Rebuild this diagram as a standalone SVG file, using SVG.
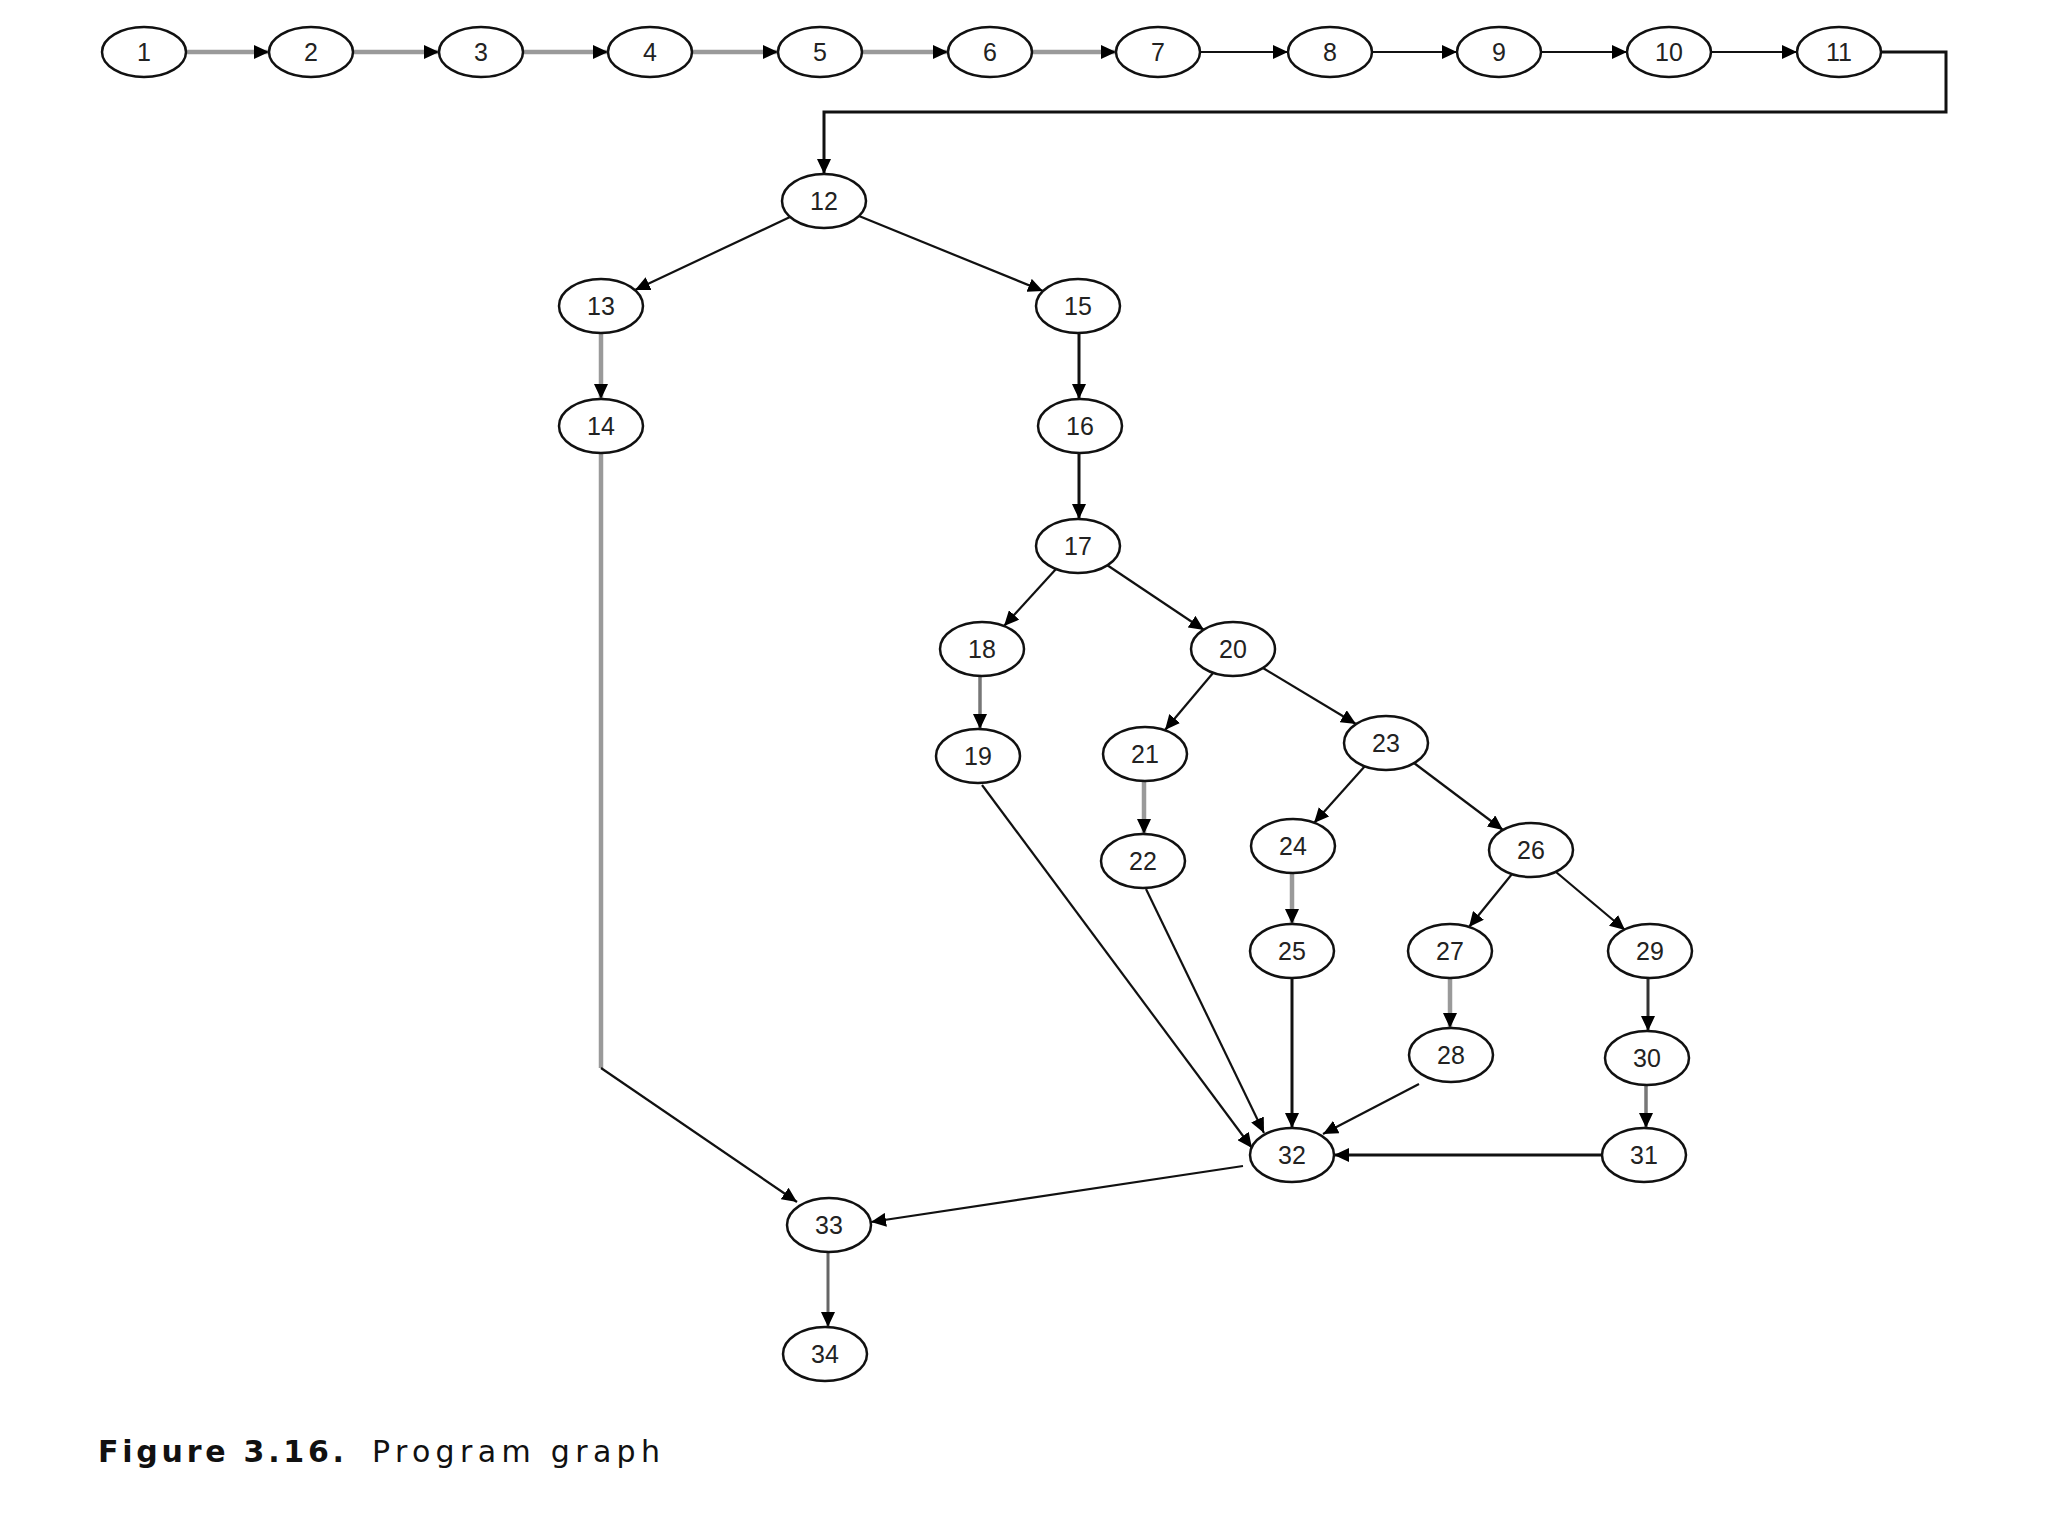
<svg xmlns="http://www.w3.org/2000/svg" width="2048" height="1536" viewBox="0 0 2048 1536">
<style>
.n ellipse{fill:#fff;stroke:#111;stroke-width:2.5}
.n text{font-family:"Liberation Sans",Arial,sans-serif;font-size:25px;fill:#222;text-anchor:middle;dominant-baseline:central}
.e{fill:none;stroke:#111;stroke-width:2.2}
.g{fill:none;stroke:#9a9a9a;stroke-width:4.5}
.a{marker-end:url(#ar)}
.cap{font-family:"DejaVu Sans",Verdana,sans-serif;font-size:30px;fill:#111}
</style>
<defs>
<marker id="ar" markerUnits="userSpaceOnUse" markerWidth="16" markerHeight="14" refX="15" refY="7" orient="auto">
<path d="M0,0 L15,7 L0,14 z" fill="#000"/>
</marker>
</defs>
<rect width="2048" height="1536" fill="#fff"/>
<g id="connectors">
<line class="g a" x1="186" y1="52" x2="269" y2="52"/>
<line class="g a" x1="353" y1="52" x2="439" y2="52"/>
<line class="g a" x1="523" y1="52" x2="608" y2="52"/>
<line class="g a" x1="692" y1="52" x2="778" y2="52"/>
<line class="g a" x1="862" y1="52" x2="948" y2="52"/>
<line class="g a" x1="1032" y1="52" x2="1116" y2="52"/>
<line class="e a" x1="1200" y1="52" x2="1288" y2="52"/>
<line class="e a" x1="1372" y1="52" x2="1457" y2="52"/>
<line class="e a" x1="1541" y1="52" x2="1627" y2="52"/>
<line class="e a" x1="1711" y1="52" x2="1797" y2="52"/>
<path class="e a" style="stroke-width:3" d="M1881,52 H1946 V112 H824 V174"/>
<line class="e a" x1="790" y1="217" x2="635" y2="290"/>
<line class="e a" x1="859" y1="216" x2="1043" y2="291"/>
<line class="g a" x1="601" y1="333" x2="601" y2="399"/>
<line class="e a" style="stroke-width:3" x1="1079" y1="333" x2="1079" y2="399"/>
<line class="e a" style="stroke-width:3" x1="1079" y1="453" x2="1079" y2="519"/>
<line class="e a" x1="1056" y1="569" x2="1004" y2="626"/>
<line class="e a" x1="1107" y1="565" x2="1204" y2="630"/>
<line class="g a" style="stroke:#777;stroke-width:3.5" x1="980" y1="676" x2="980" y2="729"/>
<line class="e a" x1="1213" y1="673" x2="1165" y2="730"/>
<line class="e a" x1="1263" y1="668" x2="1356" y2="724"/>
<line class="g a" x1="1144" y1="781" x2="1144" y2="834"/>
<line class="e a" x1="1365" y1="766" x2="1314" y2="823"/>
<line class="e a" x1="1414" y1="763" x2="1503" y2="830"/>
<line class="g a" x1="1292" y1="873" x2="1292" y2="924"/>
<line class="e a" x1="1512" y1="874" x2="1469" y2="927"/>
<line class="e a" x1="1556" y1="872" x2="1625" y2="930"/>
<line class="g a" x1="1450" y1="978" x2="1450" y2="1028"/>
<line class="e a" style="stroke:#333;stroke-width:3" x1="1648" y1="978" x2="1648" y2="1031"/>
<line class="g a" style="stroke:#777;stroke-width:3.5" x1="1646" y1="1085" x2="1646" y2="1128"/>
<line class="e a" style="stroke-width:3" x1="1602" y1="1155" x2="1334" y2="1155"/>
<line class="e a" style="stroke-width:3" x1="1292" y1="978" x2="1292" y2="1128"/>
<line class="e a" x1="1419" y1="1084" x2="1323" y2="1134"/>
<line class="e a" x1="982" y1="785" x2="1252" y2="1148"/>
<line class="e a" x1="1146" y1="889" x2="1264" y2="1133"/>
<line class="g" x1="601" y1="453" x2="601" y2="1068"/>
<line class="e a" x1="601" y1="1068" x2="797" y2="1202"/>
<line class="e a" x1="1243" y1="1166" x2="871" y2="1222"/>
<line class="g a" style="stroke:#666;stroke-width:3" x1="828" y1="1252" x2="828" y2="1327"/>
</g>
<g id="n1" class="n"><ellipse cx="144" cy="52" rx="42" ry="25"/><text x="144" y="52">1</text></g>
<g id="n2" class="n"><ellipse cx="311" cy="52" rx="42" ry="25"/><text x="311" y="52">2</text></g>
<g id="n3" class="n"><ellipse cx="481" cy="52" rx="42" ry="25"/><text x="481" y="52">3</text></g>
<g id="n4" class="n"><ellipse cx="650" cy="52" rx="42" ry="25"/><text x="650" y="52">4</text></g>
<g id="n5" class="n"><ellipse cx="820" cy="52" rx="42" ry="25"/><text x="820" y="52">5</text></g>
<g id="n6" class="n"><ellipse cx="990" cy="52" rx="42" ry="25"/><text x="990" y="52">6</text></g>
<g id="n7" class="n"><ellipse cx="1158" cy="52" rx="42" ry="25"/><text x="1158" y="52">7</text></g>
<g id="n8" class="n"><ellipse cx="1330" cy="52" rx="42" ry="25"/><text x="1330" y="52">8</text></g>
<g id="n9" class="n"><ellipse cx="1499" cy="52" rx="42" ry="25"/><text x="1499" y="52">9</text></g>
<g id="n10" class="n"><ellipse cx="1669" cy="52" rx="42" ry="25"/><text x="1669" y="52">10</text></g>
<g id="n11" class="n"><ellipse cx="1839" cy="52" rx="42" ry="25"/><text x="1839" y="52">11</text></g>
<g id="n12" class="n"><ellipse cx="824" cy="201" rx="42" ry="27"/><text x="824" y="201">12</text></g>
<g id="n13" class="n"><ellipse cx="601" cy="306" rx="42" ry="27"/><text x="601" y="306">13</text></g>
<g id="n14" class="n"><ellipse cx="601" cy="426" rx="42" ry="27"/><text x="601" y="426">14</text></g>
<g id="n15" class="n"><ellipse cx="1078" cy="306" rx="42" ry="27"/><text x="1078" y="306">15</text></g>
<g id="n16" class="n"><ellipse cx="1080" cy="426" rx="42" ry="27"/><text x="1080" y="426">16</text></g>
<g id="n17" class="n"><ellipse cx="1078" cy="546" rx="42" ry="27"/><text x="1078" y="546">17</text></g>
<g id="n18" class="n"><ellipse cx="982" cy="649" rx="42" ry="27"/><text x="982" y="649">18</text></g>
<g id="n19" class="n"><ellipse cx="978" cy="756" rx="42" ry="27"/><text x="978" y="756">19</text></g>
<g id="n20" class="n"><ellipse cx="1233" cy="649" rx="42" ry="27"/><text x="1233" y="649">20</text></g>
<g id="n21" class="n"><ellipse cx="1145" cy="754" rx="42" ry="27"/><text x="1145" y="754">21</text></g>
<g id="n22" class="n"><ellipse cx="1143" cy="861" rx="42" ry="27"/><text x="1143" y="861">22</text></g>
<g id="n23" class="n"><ellipse cx="1386" cy="743" rx="42" ry="27"/><text x="1386" y="743">23</text></g>
<g id="n24" class="n"><ellipse cx="1293" cy="846" rx="42" ry="27"/><text x="1293" y="846">24</text></g>
<g id="n25" class="n"><ellipse cx="1292" cy="951" rx="42" ry="27"/><text x="1292" y="951">25</text></g>
<g id="n26" class="n"><ellipse cx="1531" cy="850" rx="42" ry="27"/><text x="1531" y="850">26</text></g>
<g id="n27" class="n"><ellipse cx="1450" cy="951" rx="42" ry="27"/><text x="1450" y="951">27</text></g>
<g id="n28" class="n"><ellipse cx="1451" cy="1055" rx="42" ry="27"/><text x="1451" y="1055">28</text></g>
<g id="n29" class="n"><ellipse cx="1650" cy="951" rx="42" ry="27"/><text x="1650" y="951">29</text></g>
<g id="n30" class="n"><ellipse cx="1647" cy="1058" rx="42" ry="27"/><text x="1647" y="1058">30</text></g>
<g id="n31" class="n"><ellipse cx="1644" cy="1155" rx="42" ry="27"/><text x="1644" y="1155">31</text></g>
<g id="n32" class="n"><ellipse cx="1292" cy="1155" rx="42" ry="27"/><text x="1292" y="1155">32</text></g>
<g id="n33" class="n"><ellipse cx="829" cy="1225" rx="42" ry="27"/><text x="829" y="1225">33</text></g>
<g id="n34" class="n"><ellipse cx="825" cy="1354" rx="42" ry="27"/><text x="825" y="1354">34</text></g>
<g id="caption">
<text class="cap" x="98" y="1462" font-weight="bold" textLength="246" lengthAdjust="spacing">Figure 3.16.</text>
<text class="cap" x="372" y="1462" textLength="288" lengthAdjust="spacing">Program graph</text>
</g>
</svg>
